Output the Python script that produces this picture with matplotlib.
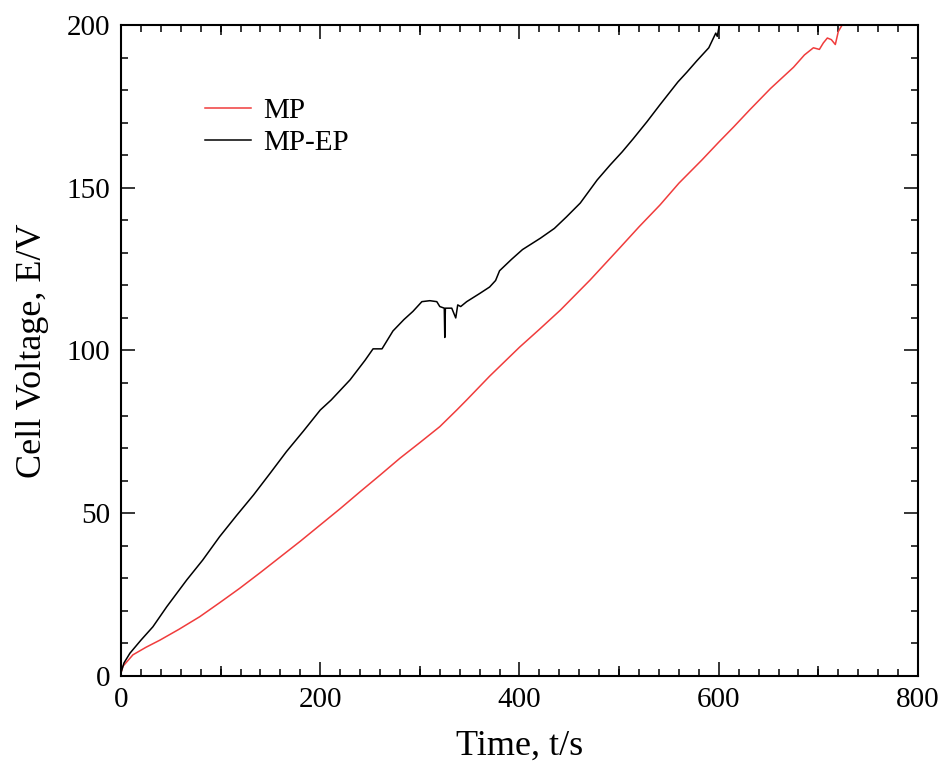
import matplotlib
matplotlib.use("Agg")
import matplotlib.pyplot as plt
from matplotlib.ticker import MultipleLocator, FixedLocator

# MP-EP run (black)
t_mpep = [0, 3, 9, 20, 32, 46, 66, 82, 99, 116, 133, 150, 166, 183, 200, 211, 230, 245,
          253, 262, 273, 284, 293, 302, 310, 317, 320, 324.5, 325, 325.6, 328, 332, 336,
          338, 341, 347, 360, 370, 373, 376, 380, 392, 403, 421, 435, 447, 461, 478, 491,
          503, 514, 528, 541, 559, 568, 578, 590, 597, 598.5, 601, 605]
v_mpep = [1, 4, 7, 11, 15.1, 21.3, 29.5, 35.6, 42.8, 49.3, 55.6, 62.4, 68.9, 75.2, 81.7,
          84.8, 91, 97, 100.5, 100.5, 106, 109.5, 112, 115, 115.3, 115, 113.5, 113, 104,
          113, 113, 113, 110, 114, 113.5, 115, 117.5, 119.5, 120.5, 121.5, 124.5, 128,
          131, 134.5, 137.5, 141, 145.3, 152.4, 157, 161, 165, 170.3, 175.5, 182.5, 185.5,
          189, 193, 197.5, 196.5, 200.6, 203]

# MP run (red)
t_mp = [0, 2, 12, 25, 39, 58, 79, 99, 119, 140, 160, 180, 200, 220, 240, 260, 280, 300,
        320, 337, 347, 370, 400, 420, 441, 471, 500, 520, 541, 560, 583, 600, 615, 631,
        652, 675, 686, 695, 701, 705, 709, 713, 717, 720, 725, 730]
v_mp = [1, 3, 6.5, 8.8, 11, 14.3, 18.2, 22.5, 26.9, 31.8, 36.6, 41.4, 46.4, 51.4, 56.6,
        61.7, 66.9, 71.7, 76.6, 81.7, 84.8, 92.1, 101, 106.5, 112.4, 121.7, 131.3, 138,
        144.7, 151.4, 158.5, 164, 168.7, 173.9, 180.5, 187, 190.8, 193, 192.5, 194.5,
        196, 195.5, 194, 198, 200.6, 202]

plt.rcParams['font.family'] = ['Liberation Serif', 'DejaVu Serif']

fig = plt.figure(figsize=(9.43, 7.62), dpi=100)
ax = fig.add_axes([0.1283, 0.1129, 0.8452, 0.8543])

ax.plot(t_mp, v_mp, color='#f03c3c', lw=1.1, label='MP')
ax.plot(t_mpep, v_mpep, color='black', lw=1.1, label='MP-EP')

ax.set_xlim(0, 800)
ax.set_ylim(0, 200)
ax.xaxis.set_major_locator(MultipleLocator(200))
ax.xaxis.set_minor_locator(MultipleLocator(20))
ax.yaxis.set_major_locator(MultipleLocator(50))
ax.yaxis.set_minor_locator(MultipleLocator(10))
ax.tick_params(which='both', direction='in', top=True, right=True, width=1.1,
               labelsize=21)
ax.tick_params(which='major', length=10, pad=8)
ax.tick_params(which='minor', length=5)
for s in ax.spines.values():
    s.set_linewidth(1.5)

# medium ticks at the odd hundreds on x
for side in ['bottom', 'top']:
    sec = ax.secondary_xaxis(side)
    sec.xaxis.set_major_locator(FixedLocator([100, 300, 500, 700]))
    sec.tick_params(direction='in', length=7.5, width=1.1, labelbottom=False,
                    labeltop=False)
    sec.spines[side].set_visible(False)

ax.set_xlabel('Time, t/s', fontsize=26, labelpad=12)
ax.set_ylabel('Cell Voltage, E/V', fontsize=26, labelpad=12)

ax.legend(loc='upper left', bbox_to_anchor=(0.105, 0.888), frameon=False,
          fontsize=21, handlelength=1.6, handletextpad=0.4, labelspacing=0.18,
          borderpad=0, borderaxespad=0)

fig.savefig('out.png', dpi=100)
